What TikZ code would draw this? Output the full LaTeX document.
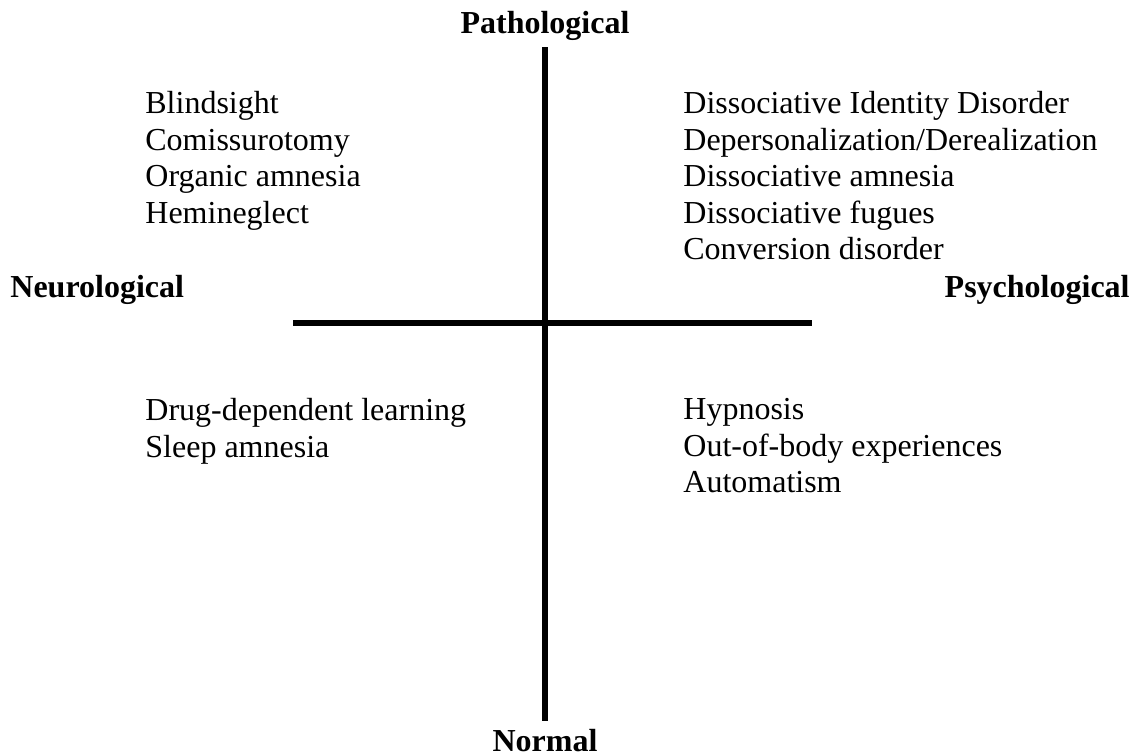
\documentclass[tikz,border=0pt]{standalone}
\usepackage{fontspec}
\setmainfont{Liberation Serif}
\usetikzlibrary{positioning}

\begin{document}
\begin{tikzpicture}[x=0.5pt,y=-0.5pt,
    axislabel/.style={font=\fontsize{16}{18}\selectfont\bfseries, inner sep=0pt},
    itemlist/.style={font=\fontsize{16}{18.25}\selectfont, align=left, anchor=north west, inner sep=0pt},
    axisline/.style={line width=3pt}]
    \useasboundingbox (0,0) rectangle (1132,756);

    % Axis labels
    \node[axislabel, anchor=base] (pathological) at (545,33) {Pathological};
    \node[axislabel, anchor=base] (normal) at (545,751) {Normal};
    \node[axislabel, anchor=base west] (neurological) at (10,297) {Neurological};
    \node[axislabel, anchor=base east] (psychological) at (1130,297) {Psychological};

    % Axes
    \coordinate (top end) at (545,47);
    \coordinate (bottom end) at (545,721);
    \coordinate (left end) at (293,323);
    \coordinate (right end) at (812,323);
    \draw[axisline] (top end) -- (bottom end);
    \draw[axisline] (left end) -- (right end);

    % Quadrant lists
    \node[itemlist] (neuroPath) at (145,91) {Blindsight\\Comissurotomy\\Organic amnesia\\Hemineglect};
    \node[itemlist] (psychoPath) at (683,91) {Dissociative Identity Disorder\\Depersonalization/Derealization\\Dissociative amnesia\\Dissociative fugues\\Conversion disorder};
    \node[itemlist] (neuroNormal) at (145,398) {Drug-dependent learning\\Sleep amnesia};
    \node[itemlist] (psychoNormal) at (683,398) {Hypnosis\\Out-of-body experiences\\Automatism};
\end{tikzpicture}
\end{document}
